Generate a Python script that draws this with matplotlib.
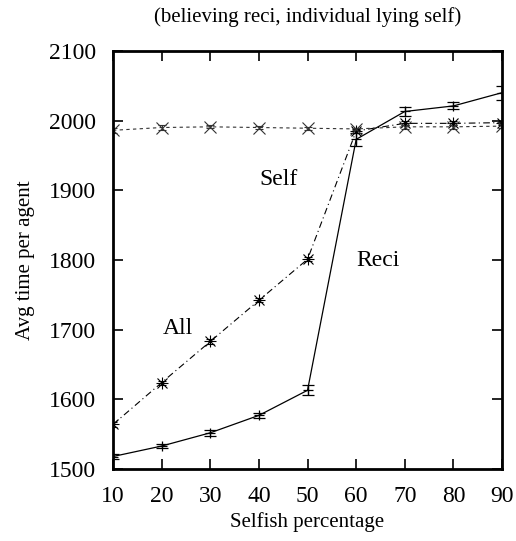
import numpy as np
import matplotlib.pyplot as plt

plt.rcParams['font.family'] = ['Liberation Serif', 'DejaVu Serif']

pct = [10, 20, 30, 40, 50, 60, 70, 80, 90]

reci = [1518, 1533, 1552, 1577, 1613, 1973, 2013, 2021, 2040]
reci_err = [3, 3, 4, 4, 7, 9, 7, 5, 10]

all_ = [1564, 1624, 1683, 1742, 1801, 1985, 1996, 1996, 1997]
all_err = [3, 3, 3, 3, 3, 3, 3, 3, 3]

self_ = [1986, 1990, 1991, 1990, 1989, 1988, 1991, 1991, 1992]
self_err = [4, 3, 2, 2, 2, 2, 3, 3, 3]

fig = plt.figure(figsize=(5.16, 5.41), dpi=100)
ax = fig.add_axes([0.219, 0.133, 0.754, 0.773])

# Reci: solid line with + points
ax.errorbar(pct, reci, yerr=reci_err, color='black', lw=0.9, marker='+', ms=7,
            mew=0.9, capsize=4, elinewidth=0.9)
# All: dash-dot with asterisk points
ax.errorbar(pct, all_, yerr=all_err, color='black', lw=0.8, ls=(0, (6, 3, 1, 3)),
            marker='+', ms=9, mew=0.8, capsize=3, elinewidth=0.8)
ax.plot(pct, all_, ls='none', marker='x', ms=7, mew=0.8, color='black')
# Self: dashed with x points
ax.errorbar(pct, self_, yerr=self_err, color='#333333', lw=0.8, ls=(0, (3, 3)),
            marker='x', ms=8, mew=0.8, capsize=3, elinewidth=0.8)

ax.text(44, 1916, 'Self', fontsize=17, ha='center', va='center')
ax.text(64.6, 1799, 'Reci', fontsize=17, ha='center', va='center')
ax.text(23.3, 1701, 'All', fontsize=17, ha='center', va='center')

ax.set_xlim(10, 90)
ax.set_ylim(1500, 2100)
ax.set_xticks(pct)
ax.set_yticks(np.arange(1500, 2101, 100))
ax.tick_params(direction='in', top=True, right=True, length=7, width=1.2,
               labelsize=17)
ax.tick_params(axis='x', pad=12)
ax.tick_params(axis='y', pad=12)
for s in ax.spines.values():
    s.set_linewidth(2)

ax.set_xlabel('Selfish percentage', fontsize=15, labelpad=4)
ax.set_ylabel('Avg time per agent', fontsize=15, labelpad=10)
ax.set_title('(believing reci, individual lying self)', fontsize=15, pad=21)

fig.savefig('out.png', dpi=100)
